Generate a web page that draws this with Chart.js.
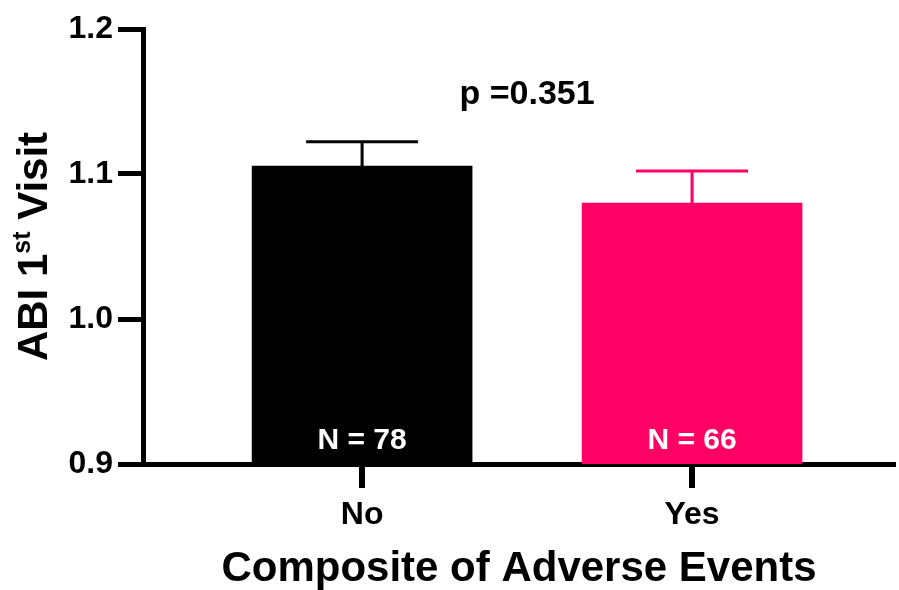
<!DOCTYPE html>
<html>
<head>
<meta charset="utf-8">
<script src="https://cdn.jsdelivr.net/npm/chart.js@4/dist/chart.umd.min.js"></script>
<style>
  html, body { margin: 0; padding: 0; background: #fff; }
  #wrap { width: 899px; height: 590px; }
</style>
</head>
<body>
<div id="wrap"><canvas id="abiChart" width="899" height="590"></canvas></div>
<script>
// ---- data ----
const groups    = ['No', 'Yes'];
const means     = [1.1055, 1.080];
const errTop    = [1.1222, 1.102];
const counts    = [78, 66];
const barColors = ['#000000', '#ff0064'];
const yTicks    = [0.9, 1.0, 1.1, 1.2];
const pLabel    = 'p =0.351';

const FONT = '"Liberation Sans", Arial, Helvetica, sans-serif';

// ---- error bars, N labels, p value, x tick marks, y title ----
const extras = {
    id: 'extras',
    afterDatasetsDraw(chart) {
        const ctx = chart.ctx;
        const xs = chart.scales.x, ys = chart.scales.y;
        ctx.save();
        groups.forEach((g, i) => {
            const cx = xs.getPixelForValue(i + 1);
            const yTop = ys.getPixelForValue(means[i]);
            const yErr = ys.getPixelForValue(errTop[i]);
            ctx.strokeStyle = barColors[i];
            ctx.lineWidth = 3;
            ctx.beginPath();
            ctx.moveTo(cx, yTop);
            ctx.lineTo(cx, yErr);
            ctx.moveTo(cx - 56, yErr);
            ctx.lineTo(cx + 56, yErr);
            ctx.stroke();

            ctx.fillStyle = '#fff';
            ctx.font = 'bold 30px ' + FONT;
            ctx.textAlign = 'center';
            ctx.textBaseline = 'middle';
            ctx.fillText('N = ' + counts[i], cx, ys.bottom - 23);
        });

        // p value
        ctx.fillStyle = '#000';
        ctx.font = 'bold 34px ' + FONT;
        ctx.textAlign = 'center';
        ctx.textBaseline = 'middle';
        ctx.fillText(pLabel, xs.getPixelForValue(1.5), ys.getPixelForValue(1.155));
        ctx.restore();
    },
    afterDraw(chart) {
        const ctx = chart.ctx;
        const area = chart.chartArea;
        const xs = chart.scales.x;

        // x tick marks
        ctx.save();
        ctx.fillStyle = '#000';
        groups.forEach((g, i) => {
            const px = Math.round(xs.getPixelForValue(i + 1));
            ctx.fillRect(px - 3, xs.top, 6, 24);
        });
        ctx.restore();

        // y title with superscript
        const big = 'bold 42px ' + FONT;
        const small = 'bold 25px ' + FONT;
        const parts = [
            { t: 'ABI 1', f: big, dy: 0 },
            { t: 'st', f: small, dy: -17 },
            { t: ' Visit', f: big, dy: 0 }
        ];
        ctx.save();
        let total = 0;
        parts.forEach(p => { ctx.font = p.f; p.w = ctx.measureText(p.t).width; total += p.w; });
        ctx.translate(47, (area.top + area.bottom) / 2);
        ctx.rotate(-Math.PI / 2);
        ctx.fillStyle = '#000';
        ctx.textBaseline = 'alphabetic';
        ctx.textAlign = 'left';
        let x = -total / 2;
        parts.forEach(p => {
            ctx.font = p.f;
            ctx.fillText(p.t, x, p.dy);
            x += p.w;
        });
        ctx.restore();
    }
};

const ctx = document.getElementById('abiChart').getContext('2d');
new Chart(ctx, {
    type: 'bar',
    data: {
        datasets: [{
            data: groups.map((g, i) => ({ x: i + 1, y: means[i] })),
            backgroundColor: barColors,
            borderWidth: 0,
            barThickness: 220
        }]
    },
    options: {
        responsive: false,
        animation: false,
        layout: { padding: { top: 29, right: 4, bottom: 0, left: 0 } },
        plugins: { legend: { display: false }, tooltip: { enabled: false } },
        scales: {
            x: {
                type: 'linear',
                offset: false,
                min: 0.336,
                max: 2.615,
                afterBuildTicks: axis => { axis.ticks = groups.map((g, i) => ({ value: i + 1 })); },
                afterFit: scale => { scale.height = 126; },
                ticks: {
                    callback: v => groups[v - 1],
                    color: '#000',
                    font: { family: FONT, size: 32, weight: 'bold' },
                    padding: 12,
                    maxRotation: 0
                },
                grid: { display: false, tickLength: 20 },
                border: { display: true, width: 5, color: '#000' },
                title: {
                    display: true,
                    text: 'Composite of Adverse Events',
                    color: '#000',
                    font: { family: FONT, size: 42, weight: 'bold' },
                    padding: { top: 0, bottom: -5 }
                }
            },
            y: {
                min: 0.9,
                max: 1.2,
                afterBuildTicks: axis => { axis.ticks = yTicks.map(v => ({ value: v })); },
                afterFit: scale => { scale.width = 143; },
                ticks: {
                    callback: v => v.toFixed(1),
                    color: '#000',
                    font: { family: FONT, size: 32, weight: 'bold' },
                    padding: 5
                },
                grid: { drawOnChartArea: false, drawTicks: true, tickLength: 25, lineWidth: 5, color: '#000' },
                border: { display: true, width: 5, color: '#000' }
            }
        }
    },
    plugins: [extras]
});
</script>
</body>
</html>
